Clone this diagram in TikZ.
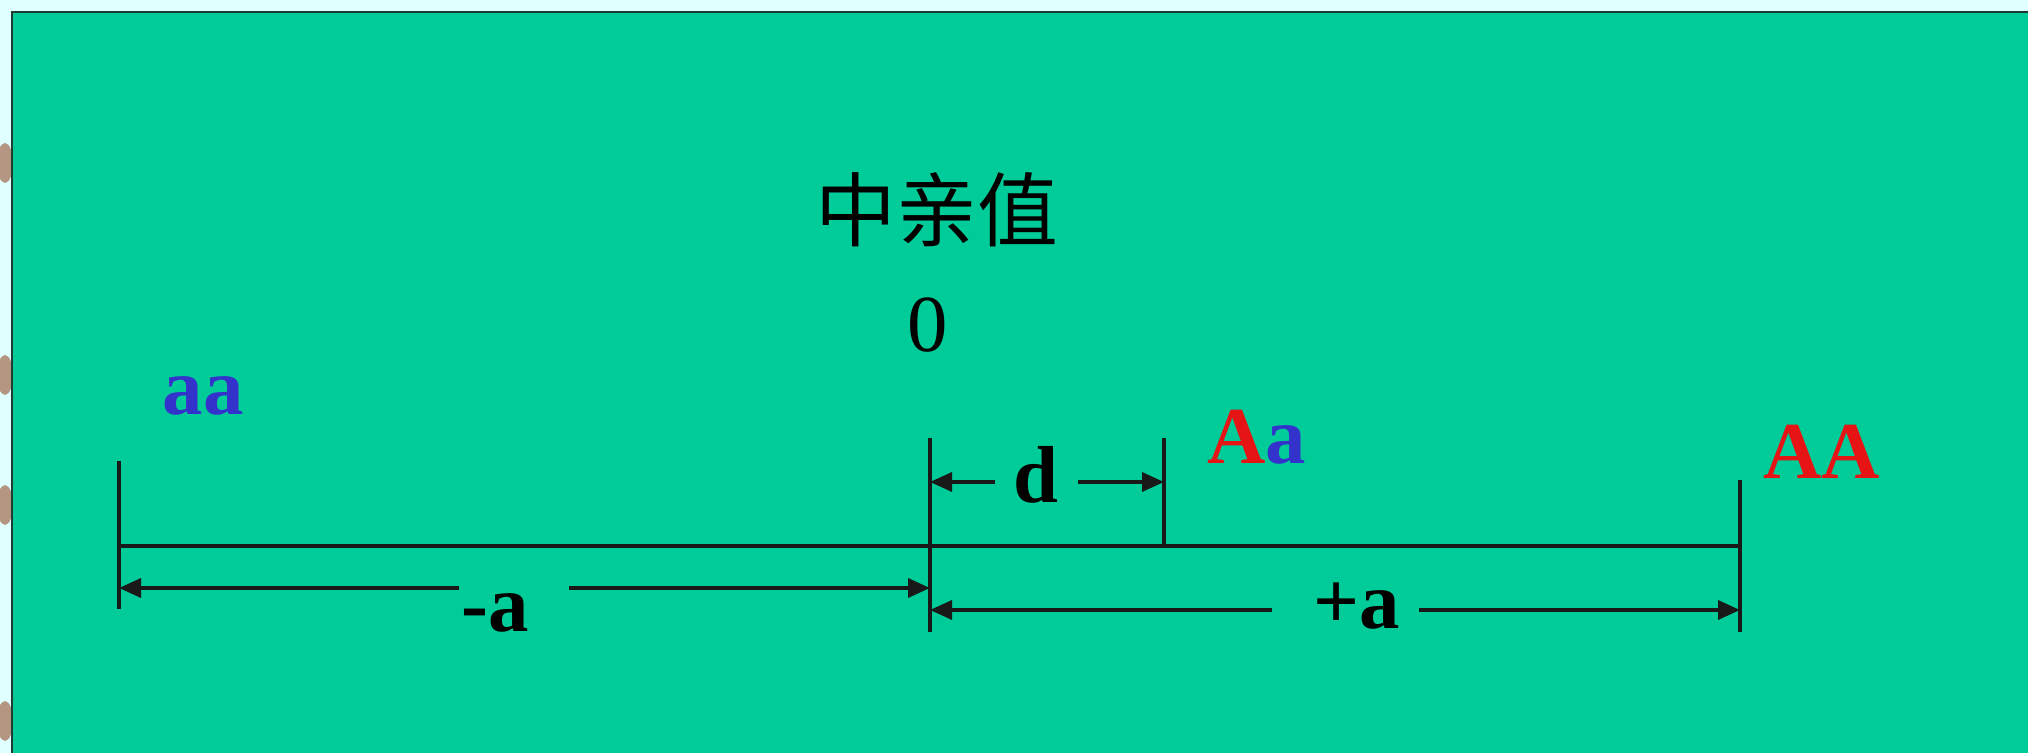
\documentclass[tikz,border=0pt]{standalone}
\usepackage{fontspec}
\setmainfont{Liberation Serif}
\newfontfamily\cjk{Noto Sans CJK SC}
\usepackage{xcolor}
\definecolor{slidebg}{RGB}{224,255,255}
\definecolor{panelgreen}{RGB}{0,204,153}
\definecolor{panelline}{RGB}{30,60,50}
\definecolor{recblue}{RGB}{51,51,204}
\definecolor{domred}{RGB}{230,20,20}
\definecolor{edgemark}{RGB}{180,150,130}
\usetikzlibrary{arrows.meta}

\newcommand{\lblsize}{\fontsize{23}{27}\selectfont}

\begin{document}
\begin{tikzpicture}[
  tick/.style={black!90, line width=1pt},
  dimarrow/.style={black!90, line width=1pt, -{Triangle[length=2.2mm, width=1.9mm]}},
  genotype/.style={font=\lblsize\bfseries, inner sep=0pt},
  dimlabel/.style={font=\lblsize\bfseries, inner sep=0pt}
]

% Slide background and green panel
\useasboundingbox (0,0) rectangle (20.28,7.53);
\fill[slidebg] (0,0) rectangle (20.28,7.53);
% bits of the slide frame peeking out on the left
\foreach \y in {5.90,3.78,2.48,0.32} {
  \fill[edgemark] (0.05,\y) ellipse (0.08 and 0.2);
}
\fill[panelgreen] (0.12,0) rectangle (20.28,7.41);
\draw[panelline, line width=0.8pt] (0.12,0) -- (0.12,7.41) -- (20.28,7.41);

% === Mid-parent value ===
\node[font=\cjk\lblsize] (title) at (9.37,5.43) {中亲值};
\node[font=\lblsize] (zero) at (9.28,4.28) {0};

% === Genotypes ===
\node[genotype, recblue] (aa) at (2.03,3.57) {aa};
\node[genotype] (Aa) at (12.57,3.16) {\textcolor{domred}{A}\textcolor{recblue}{a}};
\node[genotype, domred] (AA) at (18.22,3.01) {AA};

% === Scale with ticks ===
\coordinate (aaTop) at (1.19,2.92);
\coordinate (aaBot) at (1.19,1.44);
\coordinate (midTop) at (9.30,3.15);
\coordinate (midBot) at (9.30,1.21);
\coordinate (dTop) at (11.64,3.15);
\coordinate (dBot) at (11.64,2.07);
\coordinate (AATop) at (17.40,2.73);
\coordinate (AABot) at (17.40,1.21);

\draw[tick] (aaTop) -- (aaBot);
\draw[tick] (midTop) -- (midBot);
\draw[tick] (dTop) -- (dBot);
\draw[tick] (AATop) -- (AABot);
\draw[tick] (aaTop |- dBot) -- (AATop |- dBot);

% === Dominance deviation d ===
\node[dimlabel] (d) at (10.355,2.78) {d};
\coordinate (dL) at (9.95,2.71);
\coordinate (dR) at (10.78,2.71);
\draw[dimarrow] (dL) -- (midTop |- dL);
\draw[dimarrow] (dR) -- (dTop |- dR);

% === -a and +a ===
\node[dimlabel] (minus) at (4.95,1.40) {-a};
\node[dimlabel] (plus) at (13.57,1.47) {+a};
\coordinate (minusL) at (4.59,1.65);
\coordinate (minusR) at (5.69,1.65);
\coordinate (plusL) at (12.72,1.43);
\coordinate (plusR) at (14.19,1.43);
\draw[dimarrow] (minusL) -- (aaTop |- minusL);
\draw[dimarrow] (minusR) -- (midTop |- minusR);
\draw[dimarrow] (plusL) -- (midTop |- plusL);
\draw[dimarrow] (plusR) -- (AATop |- plusR);

\end{tikzpicture}
\end{document}
